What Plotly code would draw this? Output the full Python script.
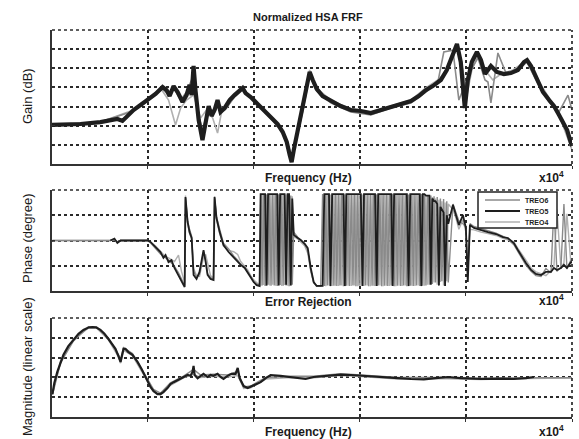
import plotly.graph_objects as go

# ---------------- Gain (dB) panel ----------------
GAIN_X_TREO5 = [0.05, 0.184, 0.278, 0.358, 0.382, 0.406, 0.434, 0.467, 0.5, 0.538,
                0.571, 0.590, 0.604, 0.623, 0.642, 0.665, 0.684, 0.698, 0.708, 0.717,
                0.726, 0.741, 0.759, 0.774, 0.788, 0.802, 0.816, 0.830, 0.844, 0.863,
                0.887, 0.910, 0.929, 0.948, 0.962, 0.986, 1.014, 1.047, 1.080, 1.113,
                1.137, 1.156, 1.170, 1.179, 1.189, 1.208, 1.231, 1.250, 1.264, 1.278,
                1.297, 1.325, 1.363, 1.410, 1.458, 1.505, 1.552, 1.599, 1.646, 1.693,
                1.741, 1.778, 1.811, 1.844, 1.882, 1.910, 1.934, 1.958, 1.976, 1.995,
                2.009, 2.028, 2.052, 2.071, 2.090, 2.118, 2.146, 2.179, 2.212, 2.245,
                2.274, 2.288, 2.307, 2.335, 2.363, 2.392, 2.415, 2.439, 2.458, 2.477,
                2.491, 2.5]
GAIN_Y_TREO5 = [-29.6, -29.1, -28.1, -26.5, -27.5, -24.9, -21.8, -19.2, -16.6, -13.4,
                -9.8, -11.4, -14.5, -9.3, -12.4, -17.6, -14.0, -8.7, -14.0, 1.2,
                -11.4, -27.0, -37.5, -27.0, -19.7, -24.9, -21.8, -16.6, -22.8, -20.8,
                -16.6, -14.0, -11.9, -10.3, -13.0, -15.0, -18.1, -21.8, -25.5, -29.1,
                -33.3, -38.5, -45.3, -49.0, -42.7, -32.3, -21.8, -10.3, -1.9, -6.0,
                -10.8, -14.5, -17.1, -19.7, -21.8, -22.3, -23.4, -21.8, -20.2, -18.6,
                -17.1, -14.5, -11.4, -9.3, -6.1, -0.9, 5.4, 12.7, 3.3, -20.8,
                -6.1, 3.3, 8.5, 4.3, -3.0, 1.2, -1.9, -3.0, -2.5, -0.9,
                3.3, 4.3, 1.2, -6.1, -12.4, -16.6, -19.7, -24.4, -28.1, -32.3,
                -37.5, -40.6]

GAIN_X_TREO6 = [0.052, 0.278, 0.434, 0.5, 0.571, 0.599, 0.623, 0.656, 0.684, 0.717,
                0.741, 0.759, 0.788, 0.816, 0.835, 0.863, 0.910, 0.948, 1.0, 1.080,
                1.137, 1.170, 1.179, 1.193, 1.231, 1.264, 1.297, 1.363, 1.458, 1.552,
                1.646, 1.741, 1.811, 1.868, 1.896, 1.939, 1.967, 1.995, 2.024, 2.057,
                2.090, 2.104, 2.118, 2.151, 2.189, 2.236, 2.288, 2.335, 2.392, 2.439,
                2.481, 2.5]
GAIN_Y_TREO6 = [-29.6, -28.1, -22.3, -17.1, -10.8, -14.0, -10.3, -16.6, -12.4, -3.5,
                -24.4, -32.3, -20.8, -22.8, -18.7, -21.8, -15.0, -11.4, -16.6, -26.0,
                -33.8, -43.7, -47.9, -40.6, -22.8, -3.5, -11.9, -18.1, -22.8, -24.4,
                -20.8, -18.1, -12.4, -7.2, 8.5, 9.5, -16.6, -8.7, -0.9, 5.4,
                -6.1, -7.2, -18.1, 8.0, -2.5, -1.9, 3.3, -7.2, -17.6, -22.8,
                -14.0, -21.8]

GAIN_X_TREO4 = [0.052, 0.278, 0.434, 0.5, 0.561, 0.599, 0.632, 0.656, 0.684, 0.717,
                0.750, 0.778, 0.807, 0.830, 0.849, 0.873, 0.910, 0.948, 1.0, 1.080,
                1.137, 1.170, 1.179, 1.193, 1.231, 1.264, 1.297, 1.363, 1.458, 1.552,
                1.646, 1.741, 1.811, 1.868, 1.910, 1.958, 1.986, 2.005, 2.028, 2.057,
                2.090, 2.127, 2.165, 2.222, 2.283, 2.335, 2.392, 2.439, 2.472, 2.5]
GAIN_Y_TREO4 = [-29.6, -28.1, -21.8, -16.1, -10.3, -16.6, -29.6, -20.8, -16.6, -14.0,
                -26.0, -21.8, -26.0, -33.8, -22.8, -20.8, -14.5, -10.8, -16.1, -24.9,
                -32.8, -42.7, -46.9, -41.7, -20.8, -0.9, -10.3, -16.6, -21.3, -22.8,
                -19.7, -16.6, -10.3, -6.1, -0.9, 10.6, -0.9, -14.0, -0.9, 6.9,
                -0.9, -6.1, -3.0, -0.9, 3.8, -5.1, -15.5, -24.4, -34.9, -42.7]

# ---------------- Phase (degree) panel ----------------
PH_PRE_X = [0.052, 0.184, 0.325, 0.344, 0.358, 0.373, 0.420, 0.5, 0.514, 0.538,
            0.561, 0.575, 0.585, 0.599, 0.613, 0.627, 0.646, 0.660, 0.675, 0.679,
            0.689, 0.698, 0.708, 0.717, 0.731, 0.745, 0.764, 0.774, 0.783, 0.797,
            0.811, 0.816, 0.825, 0.840, 0.858, 0.882, 0.906, 0.925, 0.939, 0.958,
            0.972, 0.986, 1.000, 1.014, 1.028]
PH_WRAP1_X = [1.033, 1.040, 1.047, 1.054, 1.061, 1.068, 1.075, 1.082, 1.090, 1.097,
              1.104, 1.111, 1.118, 1.125, 1.132, 1.139, 1.146, 1.153, 1.160, 1.167,
              1.175, 1.182]
PH_MID_X = [1.189, 1.208, 1.222, 1.241, 1.255, 1.269, 1.283, 1.297, 1.316]
PH_WRAP2_X = [1.325, 1.333, 1.340, 1.347, 1.355, 1.362, 1.370, 1.378, 1.385, 1.392,
              1.400, 1.407, 1.415, 1.423, 1.430, 1.437, 1.445, 1.452, 1.460, 1.468,
              1.475, 1.482, 1.490, 1.497, 1.505, 1.513, 1.520, 1.527, 1.535, 1.542,
              1.550, 1.558, 1.565, 1.572, 1.580, 1.587, 1.595, 1.603, 1.610, 1.617,
              1.625, 1.632, 1.640, 1.648, 1.655, 1.662, 1.670, 1.677, 1.685, 1.693,
              1.700, 1.707, 1.715, 1.722, 1.730, 1.738, 1.745, 1.752, 1.760, 1.767,
              1.775, 1.783, 1.790, 1.797, 1.805, 1.812, 1.820, 1.828, 1.835, 1.842,
              1.850, 1.857, 1.865, 1.873, 1.880, 1.887, 1.895, 1.902, 1.910, 1.917]
PH_POST_X = [1.939, 1.953, 1.967, 1.986, 2.000, 2.009, 2.019, 2.038, 2.071, 2.104,
             2.142, 2.175, 2.198, 2.226, 2.245, 2.259, 2.283, 2.307, 2.330, 2.354,
             2.377, 2.401, 2.415, 2.429, 2.448, 2.462, 2.476, 2.495, 2.5]

PH5_PRE = [None, None, 0, 7, -9, 0, 0, 0, -5, -23,
           -41, -62, -52, -77, -70, -98, -123, -144, -166, 155,
           66, 30, 9, -123, -137, -112, -34, -77, -123, -137,
           -141, 155, 80, 30, -16, -41, -59, -77, -87, -98,
           -116, -130, -148, -159, -162]
PH6_PRE = [0, 0, 0, 5, -6, 0, 0, 0, -8, -28,
           -48, -55, -60, -70, -80, -92, -115, -140, -160, 150,
           70, 40, 15, -110, -130, -120, -40, -70, -118, -132,
           -138, 150, 85, 40, -10, -30, -55, -70, -85, -95,
           -110, -128, -145, -155, -160]
PH4_PRE = [0, 0, 0, 3, -4, 0, 0, 0, -6, -20,
           -38, -50, -58, -62, -70, -75, -52, -110, -150, 160,
           60, 25, 5, -100, -125, -128, -60, -50, -80, -125,
           -135, 158, 75, 25, -20, -35, -40, -50, -75, -92,
           -105, -125, -140, -150, -158]

PH5_WRAP1 = [165, 165, 165, 165, -160, 165, 165, 165, 165, 165,
             165, 165, -160, 165, 165, 165, 165, -158, 165, 165,
             -160, 150]
PH6_WRAP1 = [165, -160, 163, -162, 165, -158, 164, -161, 166, -160,
             163, -162, 165, -159, 164, -161, 162, -160, 165, -163,
             160, -158]
PH4_WRAP1 = [-161, 164, -159, 165, -162, 163, -160, 166, -158, 164,
             -161, 165, -160, 163, -162, 164, -159, 165, -161, 162,
             -160, 158]

PH5_MID = [20, 9, 2, -12, -27, -98, -148, -162, -162]
PH6_MID = [30, 12, 0, -15, -35, -105, -150, -163, -163]
PH4_MID = [15, 5, -5, -20, -45, -110, -152, -160, -162]

PH5_WRAP2 = [-162, 165, 165, 165, 165, -162, 165, 165, 165, 165,
             165, 165, 165, 165, -162, 165, 165, 165, 165, 165,
             165, 165, 165, 165, 165, -162, 165, 165, 165, 165,
             165, 165, 165, 165, -162, 165, 165, 165, 165, 165,
             165, 165, 165, 165, -162, 165, 165, 165, 165, 165,
             165, 165, 165, 165, -162, 165, 165, 165, 165, 165,
             165, 165, -162, 165, 165, 160, 160, 160, -158, 150,
             140, 140, 130, -160, 120, 110, 100, -162, 90, 60]
PH6_WRAP2 = [166, -162, 164, -160, 167, -163, 165, -161, 163, -162,
             166, -160, 164, -163, 165, -161, 167, -162, 164, -160,
             165, -163, 166, -161, 164, -162, 167, -160, 165, -163,
             164, -161, 166, -162, 165, -160, 163, -163, 166, -161,
             165, -162, 164, -160, 167, -163, 165, -161, 164, -162,
             166, -160, 165, -163, 164, -161, 167, -162, 165, -160,
             163, -162, 166, -161, 164, -160, 162, -158, 160, -155,
             158, -150, 155, -160, 150, -145, 148, -162, 140, -150]
PH4_WRAP2 = [-161, 165, -163, 166, -160, 164, -162, 167, -161, 165,
             -162, 164, -160, 166, -163, 165, -161, 164, -162, 166,
             -160, 165, -163, 167, -161, 164, -162, 166, -160, 165,
             -163, 164, -161, 166, -162, 165, -160, 167, -163, 164,
             -161, 166, -162, 165, -160, 164, -163, 166, -161, 165,
             -162, 164, -160, 167, -163, 165, -161, 164, -162, 166,
             -160, 165, -163, 162, -161, 160, -158, 158, -155, 155,
             -150, 150, -158, 145, -148, 140, -160, 135, -145, 130]

PH5_POST = [127, 91, 55, 91, 45, -148, 55, 45, 37, 30,
            23, 12, 9, -9, -34, -52, -80, -105, -119, -123,
            -112, -112, -98, -105, -98, -87, -98, -77, -77]
PH6_POST = [130, 100, 70, 60, 50, -120, 60, 50, 42, 35,
            26, 15, 5, -15, -40, -60, -88, -110, -125, -128,
            -100, -115, 120, -110, -95, 130, -100, -70, -80]
PH4_POST = [110, 80, 40, 75, 30, -100, 40, 38, 30, 25,
            18, 8, 2, -5, -28, -45, -70, -98, -112, -118,
            -125, -108, -90, 110, -100, -80, 95, -85, -70]

# ---------------- Error rejection magnitude panel ----------------
MAG_X_TREO5 = [0.052, 0.061, 0.075, 0.090, 0.104, 0.127, 0.151, 0.175, 0.198, 0.222,
               0.241, 0.259, 0.278, 0.297, 0.316, 0.335, 0.349, 0.363, 0.373, 0.377,
               0.387, 0.396, 0.410, 0.429, 0.453, 0.472, 0.491, 0.505, 0.514, 0.528,
               0.547, 0.561, 0.575, 0.594, 0.608, 0.623, 0.642, 0.656, 0.670, 0.689,
               0.703, 0.712, 0.717, 0.722, 0.736, 0.750, 0.764, 0.783, 0.797, 0.811,
               0.830, 0.844, 0.858, 0.877, 0.896, 0.915, 0.925, 0.934, 0.953, 0.972,
               0.986, 1.009, 1.033, 1.057, 1.080, 1.127, 1.175, 1.222, 1.245, 1.283,
               1.340, 1.410, 1.458, 1.505, 1.599, 1.679, 1.741, 1.802, 1.858, 1.915,
               1.976, 2.071, 2.165, 2.226, 2.283, 2.321, 2.377, 2.448, 2.5]
MAG_Y_TREO5 = [0.58, 0.86, 1.14, 1.39, 1.57, 1.79, 1.94, 2.10, 2.20, 2.26,
               2.27, 2.26, 2.20, 2.10, 1.97, 1.84, 1.72, 1.54, 1.39, 1.49,
               1.72, 1.72, 1.64, 1.57, 1.39, 1.21, 1.01, 0.86, 0.76, 0.66,
               0.58, 0.58, 0.63, 0.73, 0.83, 0.88, 0.93, 0.98, 1.01, 1.06,
               1.04, 1.14, 1.29, 1.06, 0.98, 1.04, 1.09, 1.01, 1.06, 1.04,
               1.09, 1.01, 0.96, 1.04, 1.09, 1.09, 1.24, 0.98, 0.78, 0.73,
               0.76, 0.81, 0.88, 0.98, 1.06, 1.04, 1.01, 0.98, 0.96, 1.01,
               1.04, 1.07, 1.06, 1.04, 1.01, 0.98, 0.96, 0.95, 0.98, 1.01,
               0.98, 0.96, 0.97, 0.96, 0.98, 1.01, None, None, None]
MAG_X_OTHERS = [0.052, 0.090, 0.151, 0.222, 0.259, 0.316, 0.363, 0.373, 0.387, 0.429,
                0.491, 0.528, 0.561, 0.608, 0.670, 0.717, 0.750, 0.811, 0.877, 0.925,
                0.953, 0.986, 1.057, 1.175, 1.283, 1.410, 1.505, 1.679, 1.858, 2.071,
                2.283, 2.5]
MAG_Y_TREO6 = [0.56, 1.37, 1.92, 2.28, 2.28, 1.99, 1.57, 1.42, 1.75, 1.60,
               1.04, 0.70, 0.60, 0.86, 1.03, 1.20, 1.06, 1.08, 1.06, 1.15,
               0.76, 0.78, 1.00, 1.03, 1.03, 1.09, 1.06, 1.00, 1.00, 0.98,
               0.99, 0.99]
MAG_Y_TREO4 = [0.60, 1.41, 1.95, 2.25, 2.25, 1.95, 1.52, 1.36, 1.68, 1.55,
               0.98, 0.64, 0.56, 0.80, 0.99, 1.08, 1.00, 1.03, 1.01, 1.05,
               0.72, 0.74, 0.96, 1.00, 0.99, 1.05, 1.02, 0.96, 0.97, 0.95,
               0.97, 0.985]

SERIES = ["TREO6", "TREO5", "TREO4"]

# ---------------- assemble ----------------
PH_X = PH_PRE_X + PH_WRAP1_X + PH_MID_X + PH_WRAP2_X + PH_POST_X
PH_Y = {
    "TREO6": PH6_PRE + PH6_WRAP1 + PH6_MID + PH6_WRAP2 + PH6_POST,
    "TREO5": PH5_PRE + PH5_WRAP1 + PH5_MID + PH5_WRAP2 + PH5_POST,
    "TREO4": PH4_PRE + PH4_WRAP1 + PH4_MID + PH4_WRAP2 + PH4_POST,
}
for k, v in PH_Y.items():
    assert len(v) == len(PH_X), (k, len(v), len(PH_X))
assert len(GAIN_X_TREO5) == len(GAIN_Y_TREO5)
assert len(GAIN_X_TREO6) == len(GAIN_Y_TREO6)
assert len(GAIN_X_TREO4) == len(GAIN_Y_TREO4)
assert len(MAG_X_TREO5) == len(MAG_Y_TREO5)
assert len(MAG_X_OTHERS) == len(MAG_Y_TREO6) == len(MAG_Y_TREO4)

GAIN = {"TREO6": (GAIN_X_TREO6, GAIN_Y_TREO6),
        "TREO5": (GAIN_X_TREO5, GAIN_Y_TREO5),
        "TREO4": (GAIN_X_TREO4, GAIN_Y_TREO4)}
MAG = {"TREO6": (MAG_X_OTHERS, MAG_Y_TREO6),
       "TREO5": (MAG_X_TREO5, MAG_Y_TREO5),
       "TREO4": (MAG_X_OTHERS, MAG_Y_TREO4)}

COLORS = {"TREO6": "#8a8a8a", "TREO5": "#1e1e1e", "TREO4": "#b0b0b0"}
DRAW_ORDER = ["TREO4", "TREO6", "TREO5"]
W_GAIN = {"TREO6": 1.6, "TREO5": 4.2, "TREO4": 1.6}
W_PH = {"TREO6": 1.4, "TREO5": 1.8, "TREO4": 1.4}
W_MAG = {"TREO6": 1.5, "TREO5": 2.2, "TREO4": 1.5}
W_LEG = {"TREO6": 1.5, "TREO5": 2.2, "TREO4": 1.5}

fig = go.Figure()
for s in DRAW_ORDER:
    gx, gy = GAIN[s]
    fig.add_trace(go.Scatter(x=gx, y=gy, mode="lines", xaxis="x", yaxis="y",
                             line=dict(color=COLORS[s], width=W_GAIN[s]),
                             showlegend=False, name=s))
for s in DRAW_ORDER:
    fig.add_trace(go.Scatter(x=PH_X, y=PH_Y[s], mode="lines", xaxis="x2", yaxis="y2",
                             line=dict(color=COLORS[s], width=W_PH[s]),
                             showlegend=False, name=s))
for s in DRAW_ORDER:
    mx, my = MAG[s]
    fig.add_trace(go.Scatter(x=mx, y=my, mode="lines", xaxis="x3", yaxis="y3",
                             line=dict(color=COLORS[s], width=W_MAG[s]),
                             showlegend=False, name=s))

W, H = 579, 439
XD = [52 / W, 572 / W]


def ydom(top, bottom):
    return [1 - bottom / H, 1 - top / H]


xcommon = dict(range=[0.05, 2.5], tick0=0, dtick=0.5, showticklabels=False,
               showgrid=True, gridcolor="#2a2a2a", griddash="dot", gridwidth=1.7,
               zeroline=False, showline=True, linecolor="#333", linewidth=2,
               ticks="outside", ticklen=3, tickcolor="#333", domain=XD)
ycommon = dict(showticklabels=False, showgrid=True, gridcolor="#2a2a2a",
               griddash="dot", gridwidth=1.5, zeroline=False, showline=True,
               linecolor="#333", linewidth=2, ticks="inside", ticklen=3,
               tickcolor="#333")

fig.update_layout(
    width=W, height=H, margin=dict(l=0, r=0, t=0, b=0),
    paper_bgcolor="white", plot_bgcolor="white",
    font=dict(family="Liberation Sans, Arial, sans-serif", color="#222"),
    xaxis=dict(anchor="y", **xcommon),
    yaxis=dict(anchor="x", domain=ydom(30, 164), range=[-50, 20], tick0=0, dtick=10, **ycommon),
    xaxis2=dict(anchor="y2", **xcommon),
    yaxis2=dict(anchor="x2", domain=ydom(190, 291), range=[-180, 180], tick0=0, dtick=90, **ycommon),
    xaxis3=dict(anchor="y3", **xcommon),
    yaxis3=dict(anchor="x3", domain=ydom(318, 417), range=[0, 2.5], tick0=0, dtick=0.5, **ycommon),
    showlegend=False,
)

# dotted top / right borders of each panel
for xa, ya in [("x", "y"), ("x2", "y2"), ("x3", "y3")]:
    fig.add_shape(type="line", xref=f"{xa} domain", yref=f"{ya} domain", x0=0, x1=1, y0=1, y1=1,
                  line=dict(color="#2a2a2a", width=1.7, dash="dot"))
    fig.add_shape(type="line", xref=f"{xa} domain", yref=f"{ya} domain", x0=1, x1=1, y0=0, y1=1,
                  line=dict(color="#2a2a2a", width=1.7, dash="dot"))

# legend box (phase panel), drawn from the series names and colours
LEG_BOX = (478, 192, 557, 228)
fig.add_shape(type="rect", xref="paper", yref="paper", layer="above",
              x0=LEG_BOX[0] / W, x1=LEG_BOX[2] / W, y0=1 - LEG_BOX[3] / H, y1=1 - LEG_BOX[1] / H,
              fillcolor="white", line=dict(color="#222", width=1.5))
for i, s in enumerate(SERIES):
    yy = 1 - (200 + i * 11) / H
    fig.add_shape(type="line", xref="paper", yref="paper", layer="above",
                  x0=485 / W, x1=520 / W, y0=yy, y1=yy,
                  line=dict(color=COLORS[s], width=W_LEG[s]))
    fig.add_annotation(text=f"<b>{s}</b>", x=523 / W, y=yy, xref="paper", yref="paper",
                       showarrow=False, xanchor="left", yanchor="middle",
                       font=dict(size=7, color="#222"))


def ann(text, x, y, size=12, bold=True, angle=0):
    fig.add_annotation(text=(f"<b>{text}</b>" if bold else text), x=x, y=y,
                       xref="paper", yref="paper", showarrow=False,
                       xanchor="center", yanchor="middle", textangle=angle,
                       font=dict(size=size, color="#1a1a1a"))


CX = 308 / W
ann("Normalized HSA FRF", CX, 1 - 17 / H, size=11)
ann("Frequency (Hz)", CX, 1 - 178 / H)
ann("x10<sup>4</sup>", 551 / W, 1 - 177 / H)
ann("Error Rejection", CX, 1 - 302 / H)
ann("x10<sup>4</sup>", 551 / W, 1 - 300 / H)
ann("Frequency (Hz)", CX, 1 - 432 / H)
ann("x10<sup>4</sup>", 551 / W, 1 - 431 / H)
ann("Gain (dB)", 27 / W, 1 - 96 / H, size=13, bold=False, angle=-90)
ann("Phase (degree)", 27 / W, 1 - 238 / H, size=13, bold=False, angle=-90)
ann("Magnitude (linear scale)", 27 / W, 1 - 367 / H, size=13, bold=False, angle=-90)

fig.write_html("out.html", config={"displayModeBar": False},
               post_script="document.body.style.margin='0px';document.body.style.padding='0px';")
